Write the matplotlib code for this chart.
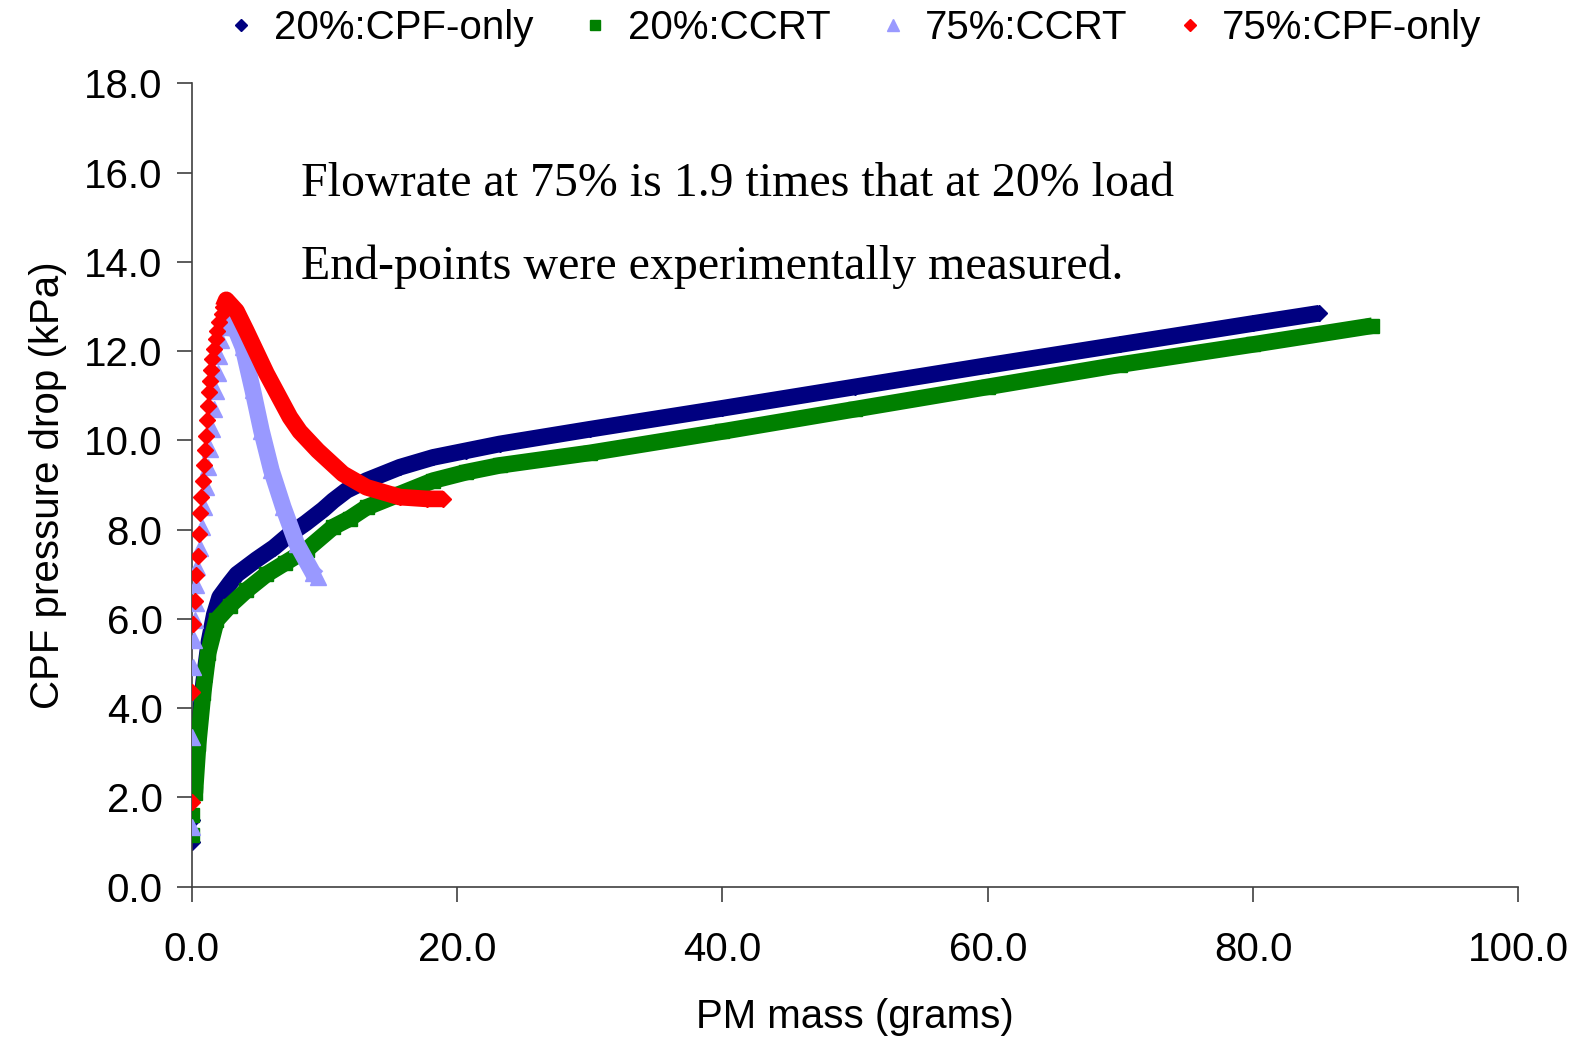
import matplotlib.pyplot as plt

# 20% load, CPF-only
cpf20_x = [0, 0.05, 0.2, 0.5, 0.9, 1.3, 1.7, 2.1, 2.87, 3.4, 4.88, 6.2, 7.39, 8.6, 9.9,
           10.66, 11.67, 13.17, 15.69, 18.2, 20.7, 23.2, 30, 40, 50, 60, 70, 80, 85]
cpf20_y = [1.0, 1.5, 2.3, 3.5, 4.6, 5.5, 6.1, 6.49, 6.8, 7.0, 7.33, 7.6, 7.9, 8.15, 8.45,
           8.65, 8.88, 9.1, 9.4, 9.62, 9.77, 9.92, 10.25, 10.72, 11.2, 11.68, 12.15, 12.62, 12.85]

# 20% load, CCRT
ccrt20_x = [0, 0.05, 0.23, 0.48, 0.85, 1.23, 1.86, 2.87, 4.12, 5.63, 7.0, 8.65, 10.66,
            11.9, 13.17, 15.69, 18.2, 20.7, 23.2, 30, 40, 50, 60, 70, 80, 89]
ccrt20_y = [1.16, 1.6, 2.1, 3.2, 4.33, 5.23, 5.97, 6.3, 6.64, 7.0, 7.25, 7.55, 8.06,
            8.25, 8.5, 8.8, 9.1, 9.29, 9.44, 9.72, 10.2, 10.7, 11.2, 11.7, 12.15, 12.57]

# 75% load, CCRT
ccrt75_x = [0, 0.05, 0.1, 0.2, 0.25, 0.3, 0.35, 0.43, 0.6, 0.75, 0.9, 1.05, 1.2, 1.4,
            1.55, 1.7, 1.83, 1.95, 2.05, 2.2, 2.4, 2.65, 3.24, 3.85, 4.6, 5.25, 6.0,
            6.9, 7.9, 9.15, 9.5]
ccrt75_y = [1.34, 3.36, 4.92, 5.52, 5.97, 6.35, 6.75, 7.16, 7.6, 8.05, 8.5, 8.95, 9.4,
            9.8, 10.25, 10.7, 11.1, 11.5, 11.9, 12.25, 12.55, 12.76, 12.53, 12.09, 11.12,
            10.22, 9.33, 8.5, 7.69, 7.02, 6.93]

# 75% load, CPF-only
cpf75_x = [0, 0, 0.1, 0.23, 0.35, 0.48, 0.55, 0.65, 0.73, 0.85, 0.9, 0.98, 1.06, 1.11,
           1.23, 1.31, 1.41, 1.48, 1.56, 1.66, 1.81, 1.91, 2.06, 2.24, 2.36, 2.6, 3.37,
           4.1, 5.63, 7.4, 8.14, 9.5, 11.4, 13.17, 15.69, 17.7, 18.95]
cpf75_y = [1.9, 4.36, 5.89, 6.4, 6.98, 7.42, 7.91, 8.37, 8.73, 9.1, 9.46, 9.79, 10.11,
           10.46, 10.78, 11.08, 11.34, 11.57, 11.83, 12.05, 12.27, 12.46, 12.65, 12.83,
           12.98, 13.15, 12.9, 12.46, 11.5, 10.52, 10.2, 9.77, 9.25, 8.95, 8.73, 8.69, 8.69]

plt.rcParams['font.family'] = ['Liberation Sans', 'DejaVu Sans']

fig = plt.figure(figsize=(15.85, 10.42), dpi=100)
ax = fig.add_axes([0.121, 0.149, 0.837, 0.771])

lw = 12
# the dense runs of markers look like thick bands -> thick line under the markers
ax.plot(cpf20_x[2:], cpf20_y[2:], color='#000080', lw=lw, solid_capstyle='butt', zorder=2)
ax.plot(cpf20_x, cpf20_y, 'D', color='#000080', ms=8.5, zorder=2, label='20%:CPF-only')
ax.plot(ccrt20_x[2:], ccrt20_y[2:], color='#008000', lw=lw, solid_capstyle='butt', zorder=3)
ax.plot(ccrt20_x, ccrt20_y, 's', color='#008000', ms=10, zorder=3, label='20%:CCRT')
ax.plot(ccrt75_x[20:], ccrt75_y[20:], color='#9999FF', lw=lw, solid_capstyle='butt', zorder=4)
ax.plot(ccrt75_x, ccrt75_y, '^', color='#9999FF', ms=11, zorder=4, label='75%:CCRT')
ax.plot(cpf75_x[24:], cpf75_y[24:], color='#FF0000', lw=lw, solid_capstyle='butt', zorder=5)
ax.plot(cpf75_x, cpf75_y, 'D', color='#FF0000', ms=8.5, zorder=5, label='75%:CPF-only')

ax.set_xlim(0, 100)
ax.set_ylim(0, 18)
ax.set_xticks(range(0, 101, 20))
ax.set_yticks(range(0, 19, 2))
ax.set_xticklabels([f'{v:.1f}' for v in range(0, 101, 20)])
ax.set_yticklabels([f'{v:.1f}' for v in range(0, 19, 2)])
ax.tick_params(labelsize=29, length=11, width=1.2, color='#404040')
ax.tick_params(axis='x', pad=21)
ax.tick_params(axis='y', pad=10)
for s in ['top', 'right']:
    ax.spines[s].set_visible(False)
for s in ['left', 'bottom']:
    ax.spines[s].set_color('#404040')
    ax.spines[s].set_linewidth(1.2)

ax.set_xlabel('PM mass (grams)', fontsize=29, labelpad=21)
ax.set_ylabel('CPF pressure drop (kPa)', fontsize=29, labelpad=12)

ax.text(8.2, 15.48, 'Flowrate at 75% is 1.9 times that at 20% load',
        family='Liberation Serif', fontsize=34.5, va='baseline')
ax.text(8.2, 13.62, 'End-points were experimentally measured.',
        family='Liberation Serif', fontsize=34.5, va='baseline')

fig.legend(loc='center', bbox_to_anchor=(0.539, 0.973), ncol=4, frameon=False,
           fontsize=29, markerscale=0.75, handlelength=0.7, handletextpad=0.45,
           columnspacing=1.2)

fig.savefig('out.png', dpi=100)
